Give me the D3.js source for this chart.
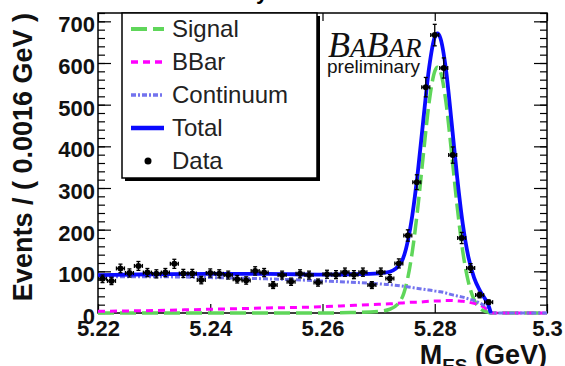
<!DOCTYPE html>
<html>
<head>
<meta charset="utf-8">
<script src="https://cdn.jsdelivr.net/npm/d3@7"></script>
<style>
  body { margin: 0; background: #fff; }
  svg { display: block; font-family: "Liberation Sans", Arial, sans-serif; }
</style>
</head>
<body>
<div id="chart"></div>
<script>
// binned data, 50 bins of 0.0016 GeV from 5.22 to 5.30
const binLow = 5.22;
const binWidth = 0.0016;
const dataCounts = [82, 77, 107, 96, 113, 97, 94, 97, 118, 95,
  95, 79, 96, 94, 91, 81, 78, 101, 97, 67,
  91, 75, 94, 91, 73, 93, 92, 98, 92, 98,
  67, 98, 83, 119, 186, 314, 542, 667, 588, 379,
  180, 108, 43, 26, 0, 0, 0, 0, 0, 0];
const dataErrors = [9.1, 8.8, 10.3, 9.8, 10.6, 9.8, 9.7, 9.8, 10.9, 9.7,
  9.7, 8.9, 9.8, 9.7, 9.5, 9.0, 8.8, 10.0, 9.8, 8.2,
  9.5, 8.7, 9.7, 9.5, 8.5, 9.6, 9.6, 9.9, 9.6, 9.9,
  8.2, 9.9, 9.1, 10.9, 13.6, 17.7, 23.3, 25.8, 24.2, 19.5,
  13.4, 10.4, 6.6, 5.1, 0, 0, 0, 0, 0, 0];

// fitted curves
const curveX = [5.22, 5.23, 5.24, 5.25, 5.26, 5.265, 5.27, 5.272, 5.274, 5.276,
  5.277, 5.278, 5.279, 5.28, 5.2805, 5.281, 5.282, 5.283, 5.284, 5.285,
  5.286, 5.287, 5.288, 5.289, 5.2895, 5.29, 5.295, 5.3];
const signal = [0, 0, 0, 0, 0, 1, 4, 9, 32, 147,
  255, 384, 506, 580, 590, 580, 506, 384, 255, 147,
  74, 32, 12, 4, 2, 0, 0, 0];
const bbar = [4, 6, 9, 12, 15, 18, 21, 22, 24, 26,
  26, 27, 28, 29, 29, 29, 30, 30, 29, 28,
  26, 23, 19, 12, 7, 0, 0, 0];
const continuum = [87, 87, 85, 82, 77, 74, 70, 68, 65, 61,
  59, 57, 55, 53, 52, 51, 48, 44, 41, 38,
  34, 30, 24, 17, 12, 0, 0, 0];
const total = [91, 93, 94, 94, 92, 93, 95, 99, 121, 234,
  340, 468, 589, 662, 671, 660, 584, 458, 325, 213,
  134, 85, 55, 33, 21, 0, 0, 0];

const xTicks = [5.22, 5.24, 5.26, 5.28, 5.3];
const yTicks = [0, 100, 200, 300, 400, 500, 600, 700];
const yMinorTicks = d3.range(0, 721, 20);

const width = 565, height = 366;
const frameL = 98, frameR = 547, frameT = 13, frameB = 313;

const svg = d3.select('#chart').append('svg')
  .attr('width', width)
  .attr('height', height);

const x = d3.scaleLinear().domain([5.22, 5.3]).range([frameL, frameR]);
const y = d3.scaleLinear().domain([0, 720]).range([frameB, frameT]);

// clipped title (only a descender is inside the page)
svg.append('text')
  .attr('x', 262).attr('y', -1.5)
  .attr('text-anchor', 'middle')
  .attr('font-size', 22).attr('font-weight', 'bold')
  .text('y');

// frame
svg.append('rect')
  .attr('x', frameL).attr('y', frameT)
  .attr('width', frameR - frameL).attr('height', frameB - frameT)
  .attr('fill', 'none').attr('stroke', '#000').attr('stroke-width', 1.5);

// axes, ticks pointing inwards like ROOT
const gLeft = svg.append('g').attr('transform', `translate(${frameL},0)`)
  .call(d3.axisLeft(y).tickValues(yTicks).tickSize(-13).tickPadding(3));
svg.append('g').attr('transform', `translate(${frameL},0)`)
  .call(d3.axisLeft(y).tickValues(yMinorTicks).tickSize(-7).tickFormat(''));
svg.append('g').attr('transform', `translate(${frameR},0)`)
  .call(d3.axisRight(y).tickValues(yTicks).tickSize(-13).tickFormat(''));
svg.append('g').attr('transform', `translate(${frameR},0)`)
  .call(d3.axisRight(y).tickValues(yMinorTicks).tickSize(-7).tickFormat(''));
const gBottom = svg.append('g').attr('transform', `translate(0,${frameB})`)
  .call(d3.axisBottom(x).tickValues(xTicks).tickSize(-9).tickPadding(7)
    .tickFormat(d => d === 5.3 ? '5.3' : d3.format('.2f')(d)));
svg.append('g').attr('transform', `translate(0,${frameT})`)
  .call(d3.axisTop(x).tickValues(xTicks).tickSize(-8).tickFormat(''));

svg.selectAll('.domain').remove();
svg.selectAll('.tick line').attr('stroke', '#000').attr('stroke-width', 1.2);
gLeft.selectAll('text')
  .attr('dy', '0.48em')
  .attr('font-size', 22).attr('font-weight', 'bold')
  .attr('font-family', '"Liberation Sans", Arial, sans-serif')
  .attr('fill', '#111');
gBottom.selectAll('text')
  .attr('font-size', 22).attr('font-weight', 'bold')
  .attr('font-family', '"Liberation Sans", Arial, sans-serif')
  .attr('fill', '#111');

// axis titles
svg.append('text')
  .attr('transform', `translate(32,${frameT}) rotate(-90)`)
  .attr('text-anchor', 'end')
  .attr('font-size', 27).attr('font-weight', 'bold').attr('fill', '#111')
  .text('Events / ( 0.0016 GeV )');

const xTitle = svg.append('text')
  .attr('x', frameR).attr('y', 363.5)
  .attr('text-anchor', 'end')
  .attr('font-size', 27).attr('font-weight', 'bold').attr('fill', '#111');
xTitle.append('tspan').text('M');
xTitle.append('tspan').attr('font-size', 19).attr('dy', 8).text('ES');
xTitle.append('tspan').attr('dy', -8).text(' (GeV)');

// curves
svg.append('clipPath').attr('id', 'frame-clip')
  .append('rect')
  .attr('x', frameL).attr('y', frameT - 2)
  .attr('width', frameR - frameL).attr('height', frameB - frameT + 4);

const plot = svg.append('g').attr('clip-path', 'url(#frame-clip)');

const line = (values, xMax) => d3.line()
  .defined((d, i) => curveX[i] <= xMax)
  .x((d, i) => x(curveX[i]))
  .y(d => y(d))
  .curve(d3.curveMonotoneX)(values);

const curveStyles = [
  { values: signal, color: '#5fd65a', width: 3.5, dash: '16,6', xMax: 5.3 },
  { values: bbar, color: '#ff00ff', width: 3, dash: '7,5', xMax: 5.3 },
  { values: continuum, color: '#7373ee', width: 3, dash: '5,2,2,2', xMax: 5.3 },
  { values: total, color: '#0a0aff', width: 3.8, dash: null, xMax: 5.29 }
];

plot.selectAll('path.fit')
  .data(curveStyles)
  .join('path')
  .attr('class', 'fit')
  .attr('d', d => line(d.values, d.xMax))
  .attr('fill', 'none')
  .attr('stroke', d => d.color)
  .attr('stroke-width', d => d.width)
  .attr('stroke-dasharray', d => d.dash);

// data points with error bars
const points = dataCounts
  .map((v, i) => ({ cx: binLow + binWidth * (i + 0.5), lo: binLow + binWidth * i, hi: binLow + binWidth * (i + 1), v, e: dataErrors[i] }))
  .filter(d => d.v > 0);

const pt = plot.selectAll('g.pt')
  .data(points)
  .join('g')
  .attr('class', 'pt')
  .attr('stroke', '#000')
  .attr('stroke-width', 1.3);

pt.append('line')
  .attr('x1', d => x(d.lo) + 0.5).attr('x2', d => x(d.hi) - 0.5)
  .attr('y1', d => y(d.v)).attr('y2', d => y(d.v));
pt.append('line')
  .attr('x1', d => x(d.cx)).attr('x2', d => x(d.cx))
  .attr('y1', d => y(d.v - d.e)).attr('y2', d => y(d.v + d.e));
pt.append('line')
  .attr('x1', d => x(d.cx) - 2).attr('x2', d => x(d.cx) + 2)
  .attr('y1', d => y(d.v + d.e)).attr('y2', d => y(d.v + d.e));
pt.append('line')
  .attr('x1', d => x(d.cx) - 2).attr('x2', d => x(d.cx) + 2)
  .attr('y1', d => y(d.v - d.e)).attr('y2', d => y(d.v - d.e));
pt.append('line')
  .attr('x1', d => x(d.lo) + 0.5).attr('x2', d => x(d.lo) + 0.5)
  .attr('y1', d => y(d.v) - 2).attr('y2', d => y(d.v) + 2);
pt.append('line')
  .attr('x1', d => x(d.hi) - 0.5).attr('x2', d => x(d.hi) - 0.5)
  .attr('y1', d => y(d.v) - 2).attr('y2', d => y(d.v) + 2);
pt.append('circle')
  .attr('cx', d => x(d.cx)).attr('cy', d => y(d.v))
  .attr('r', 3).attr('fill', '#000').attr('stroke', 'none');

// BaBar logo
const logo = svg.append('text')
  .attr('x', 328).attr('y', 57)
  .attr('font-family', '"Liberation Serif", "Times New Roman", serif')
  .attr('font-style', 'italic')
  .attr('fill', '#111');
logo.append('tspan').attr('font-size', 36).text('B');
logo.append('tspan').attr('font-size', 27).text('A');
logo.append('tspan').attr('font-size', 36).text('B');
logo.append('tspan').attr('font-size', 27).text('AR');
svg.append('text')
  .attr('x', 327).attr('y', 73)
  .attr('font-size', 19).attr('fill', '#111')
  .attr('textLength', 93)
  .text('preliminary');

// legend
const legendNames = ['Signal', 'BBar', 'Continuum', 'Total', 'Data'];
const legendRows = [29, 62, 95, 128, 161];
const legend = svg.append('g');
legend.append('rect')
  .attr('x', 125).attr('y', 16).attr('width', 195).attr('height', 165)
  .attr('fill', '#000');
legend.append('rect')
  .attr('x', 122).attr('y', 13).attr('width', 195).attr('height', 165)
  .attr('fill', '#fff').attr('stroke', '#000').attr('stroke-width', 1.5);

curveStyles.forEach((s, i) => {
  legend.append('line')
    .attr('x1', 131).attr('x2', 164)
    .attr('y1', legendRows[i]).attr('y2', legendRows[i])
    .attr('stroke', s.color)
    .attr('stroke-width', s.width + 0.5)
    .attr('stroke-dasharray', s.dash);
});
legend.append('circle')
  .attr('cx', 148).attr('cy', legendRows[4]).attr('r', 3.5).attr('fill', '#000');

legend.selectAll('text.lbl')
  .data(legendNames)
  .join('text')
  .attr('class', 'lbl')
  .attr('x', 172)
  .attr('y', (d, i) => legendRows[i] + 8)
  .attr('font-size', 24)
  .attr('fill', '#222')
  .text(d => d);
</script>
</body>
</html>
